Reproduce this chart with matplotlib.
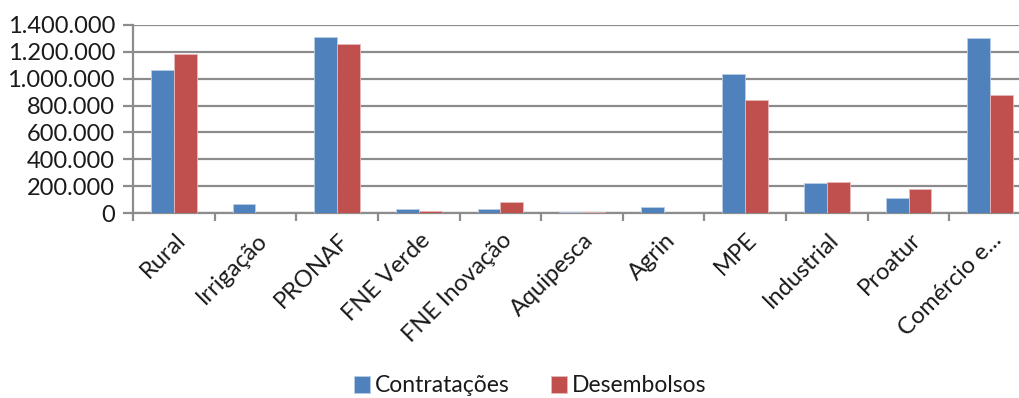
import matplotlib
matplotlib.use("Agg")
import matplotlib.pyplot as plt
import matplotlib.transforms as mtrans
import numpy as np
from matplotlib.ticker import FuncFormatter

categories = ["Rural", "Irrigação", "PRONAF", "FNE Verde", "FNE Inovação", "Aquipesca",
              "Agrin", "MPE", "Industrial", "Proatur", "Comércio e..."]
contratacoes = [1065000, 71000, 1311000, 30000, 34000, 10000, 47000, 1036000, 225000, 111000, 1301000]
desembolsos = [1183000, 0, 1257000, 19000, 86000, 7000, 0, 839000, 232000, 178000, 876000]
yticks = [0, 200000, 400000, 600000, 800000, 1000000, 1200000, 1400000]

plt.rcParams['font.family'] = ['Lato', 'DejaVu Sans']

W, H = 1019, 398
fig = plt.figure(figsize=(W/100, H/100), dpi=100)
left, right = 133, 1031
top, bottom = 24.7, 213.3
ax = fig.add_axes([left/W, 1 - bottom/H, (right-left)/W, (bottom-top)/H])

x = np.arange(len(categories))
bw = 0.28
blue = "#4f81bd"
red = "#c0504d"
ax.bar(x - bw/2, contratacoes, bw, color=blue, edgecolor="#b9cde5", linewidth=0.6, label="Contratações", zorder=3)
ax.bar(x + bw/2, desembolsos, bw, color=red, edgecolor="#e6b9b8", linewidth=0.6, label="Desembolsos", zorder=3)

ax.set_xlim(-0.5, len(categories) - 0.5)
ax.set_ylim(0, 1400000)
ax.set_yticks(yticks)
ax.yaxis.set_major_formatter(FuncFormatter(lambda v, p: f"{int(v):,}".replace(",", ".")))
ax.grid(axis='y', color="#8c8c8c", linewidth=1.6, zorder=0)
ax.set_axisbelow(True)

for s in ["top", "right"]:
    ax.spines[s].set_visible(False)
ax.spines["left"].set_color("#8c8c8c")
ax.spines["left"].set_linewidth(1.6)
ax.spines["bottom"].set_color("#8c8c8c")
ax.spines["bottom"].set_linewidth(1.6)

ax.tick_params(axis='y', length=7, width=1.6, color="#8c8c8c", labelsize=17, pad=6, labelcolor="#1a1a1a")
ax.set_xticks(np.arange(len(categories) + 1) - 0.5, minor=True)
ax.set_xticks(x)
ax.tick_params(axis='x', which='minor', length=6, width=1.6, color="#8c8c8c")
ax.tick_params(axis='x', which='major', length=0, pad=0)
ax.set_xticklabels(categories, rotation=45, ha='right', va='top', rotation_mode='anchor',
                   fontsize=17, color="#1a1a1a")
offset = mtrans.ScaledTranslation(1/100, -16/100, fig.dpi_scale_trans)
for lab in ax.get_xticklabels():
    lab.set_transform(lab.get_transform() + offset)

leg = fig.legend(loc='center', bbox_to_anchor=(530/W, 1 - 386/H), ncol=2, frameon=False,
                 prop={'size': 16.5},
                 handlelength=0.7, handleheight=0.8, handletextpad=0.2, columnspacing=1.8)
for t in leg.get_texts():
    t.set_color("#1a1a1a")

fig.savefig("out.png", dpi=100)
